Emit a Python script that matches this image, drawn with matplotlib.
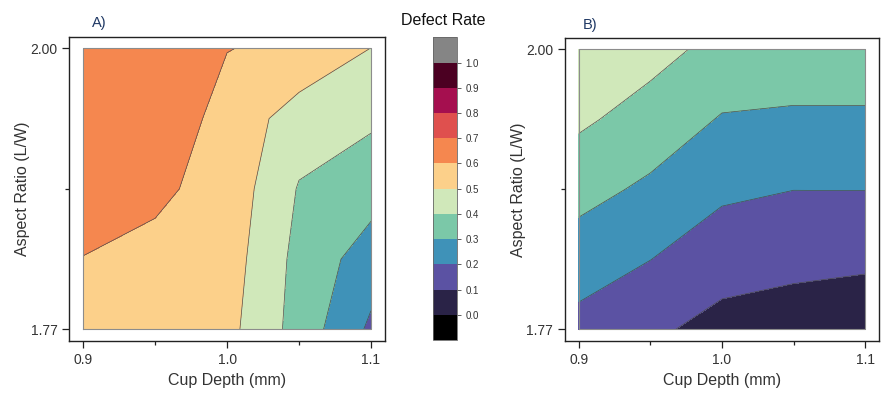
import numpy as np
import matplotlib.pyplot as plt
from matplotlib.colors import ListedColormap
from matplotlib.ticker import FixedLocator

plt.rcParams['font.family'] = ['Liberation Sans', 'DejaVu Sans']

cup_depth = [0.9, 0.95, 1.0, 1.05, 1.1]
aspect_ratio = [1.77, 1.8275, 1.885, 1.9425, 2.0]

# rows: aspect ratio bottom->top, cols: cup depth left->right
rate_a = [
    [0.560, 0.550, 0.530, 0.361, 0.182],
    [0.598, 0.575, 0.548, 0.370, 0.250],
    [0.640, 0.618, 0.5645, 0.393, 0.343],
    [0.670, 0.658, 0.570, 0.450, 0.415],
    [0.660, 0.630, 0.602, 0.584, 0.499],
]
rate_b = [
    [0.168, 0.118, 0.067, 0.051, 0.034],
    [0.250, 0.201, 0.143, 0.126, 0.1175],
    [0.333, 0.282, 0.218, 0.201, 0.2016],
    [0.417, 0.359, 0.293, 0.2836, 0.2836],
    [0.490, 0.434, 0.370, 0.366, 0.366],
]

levels = [0.0, 0.1, 0.2, 0.3, 0.4, 0.5, 0.6, 0.7, 0.8, 0.9, 1.0]
band_colors = ['#2a2347', '#5b52a3', '#3f92b8', '#7bc8a8', '#d0e8ba',
               '#fcd08a', '#f5874f', '#df504e', '#a50f4f', '#4b0022']
cmap = ListedColormap(band_colors)
cmap.set_under('#000000')
cmap.set_over('#858585')

txt = '#333333'
fig = plt.figure(figsize=(8.91, 3.96), dpi=100)
axA = fig.add_axes([0.0778, 0.1396, 0.3542, 0.7662])
axB = fig.add_axes([0.634, 0.1396, 0.3525, 0.7636])
cax = fig.add_axes([0.4856, 0.1414, 0.0269, 0.7644])

X, Y = np.meshgrid(cup_depth, aspect_ratio)
for ax, data in [(axA, rate_a), (axB, rate_b)]:
    Z = np.array(data)
    cf = ax.contourf(X, Y, Z, levels=levels, cmap=cmap, extend='both')
    ax.contour(X, Y, Z, levels=levels, colors='#4d4d4d', linewidths=0.5)
    x0, x1 = cup_depth[0], cup_depth[-1]
    y0, y1 = aspect_ratio[0], aspect_ratio[-1]
    ax.plot([x0, x1, x1, x0, x0], [y0, y0, y1, y1, y0], color='#8c8c8c', lw=0.8)
    ax.set_xlim(0.8903, 1.1097)
    ax.set_ylim(1.7607, 2.009)
    ax.set_xticks([0.9, 1.0, 1.1])
    ax.set_xticklabels(['0.9', '1.0', '1.1'])
    ax.xaxis.set_minor_locator(FixedLocator([0.95, 1.05]))
    ax.set_yticks([1.77, 2.0])
    ax.set_yticklabels(['1.77', '2.00'])
    ax.yaxis.set_minor_locator(FixedLocator([1.885]))
    ax.tick_params(which='major', length=5, width=0.9, labelsize=10, colors='#222222', labelcolor=txt)
    ax.tick_params(which='minor', length=3, width=0.9, colors='#222222')
    ax.set_xlabel('Cup Depth (mm)', fontsize=11.5, color=txt, labelpad=5)
    ax.set_ylabel('Aspect Ratio (L/W)', fontsize=11.5, color=txt, labelpad=0)
    for s in ax.spines.values():
        s.set_linewidth(1.0)
        s.set_color('#222222')

cb = fig.colorbar(cf, cax=cax, extend='both', extendrect=True, extendfrac=0.1)
cb.set_ticks(levels)
cb.ax.set_yticklabels(['%.1f' % v for v in levels])
cb.ax.tick_params(length=3, width=0.6, labelsize=7, colors='#444444', labelcolor=txt)
cb.outline.set_linewidth(0.6)
cb.outline.set_edgecolor('#666666')

fig.text(0.497, 0.947, 'Defect Rate', fontsize=11.5, color='#111111', ha='center', va='center')
fig.text(0.103, 0.942, 'A)', fontsize=10.5, color='#1f3864', ha='left', va='center')
fig.text(0.654, 0.937, 'B)', fontsize=10.5, color='#1f3864', ha='left', va='center')

fig.savefig('out.png', dpi=100)
